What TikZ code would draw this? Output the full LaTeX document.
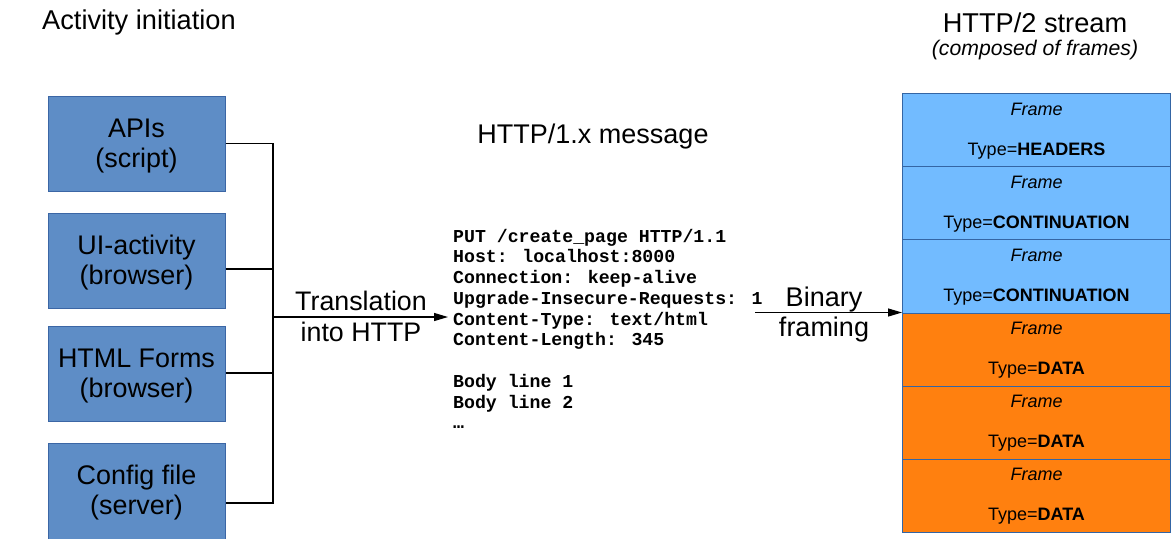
\documentclass[tikz,border=0pt]{standalone}
\usepackage{fontspec}
\setmainfont{Liberation Sans}
\newfontfamily\codefont{Liberation Mono}
\usetikzlibrary{arrows.meta,calc}
\definecolor{boxblue}{HTML}{5E8DC6}
\definecolor{boxedge}{HTML}{3B66A5}
\definecolor{fblue}{HTML}{72BBFF}
\definecolor{forange}{HTML}{FF800F}
\definecolor{frameedge}{HTML}{3465A4}
\tikzset{
  actbox/.style={draw=boxedge, line width=1pt, fill=boxblue, minimum width=177pt, minimum height=95pt, inner sep=0pt},
  acttext/.style={inner sep=0pt, align=center, anchor=base, font=\fontsize{26.9}{29.8}\selectfont},
  frm/.style={draw=frameedge, line width=1pt, minimum width=268pt, minimum height=73.17pt, inner sep=0pt, anchor=north west},
  frmlbl/.style={font=\fontsize{18}{20}\selectfont, anchor=base, inner sep=0pt},
  codeline/.style={anchor=base west, inner sep=0pt, font=\codefont\bfseries\fontsize{18.2}{20.75}\selectfont},
  title/.style={inner sep=0pt, anchor=base},
  conn/.style={line width=1.2pt},
  arr/.style={conn, -{Triangle[length=14pt,width=8pt]}},
}
\begin{document}
\begin{tikzpicture}[x=1pt,y=-1pt]
\useasboundingbox[fill=white] (0,0) rectangle (1174,538);

% titles
\node[title, anchor=base west, font=\fontsize{27.2}{30}\selectfont] (t1) at (42,29) {Activity initiation};
\node[title, font=\fontsize{27.2}{30}\selectfont] (t2) at (1035,32) {HTTP/2 stream};
\node[title, font=\fontsize{21.2}{24}\selectfont\itshape] (t3) at (1035,55) {(composed of frames)};
\node[title, font=\fontsize{27}{30}\selectfont] (t4) at (593,143) {HTTP/1.x message};

% activity boxes
\node[actbox] (b1) at (136.5,143.5) {};
\node[actbox] (b2) at (136.5,260.5) {};
\node[actbox] (b3) at (136.5,374) {};
\node[actbox, minimum height=97pt] (b4) at (136.5,491.5) {};
\node[acttext] (b1t) at ([yshift=-23.5pt]b1.center) {APIs\\(script)};
\node[acttext] (b2t) at ([yshift=-23.5pt]b2.center) {UI-activity\\(browser)};
\node[acttext] (b3t) at ([yshift=-23.5pt]b3.center) {HTML Forms\\(browser)};
\node[acttext] (b4t) at ([yshift=-22.5pt]b4.center) {Config file\\(server)};

% bus connectors
\coordinate (jt) at (273,143.5);
\coordinate (jb) at (273,503);
\coordinate (bus) at (273,317);
\coordinate (msgin) at (448,317);
\draw[conn] (b1.east) -- (jt) -- (jb) -- ([yshift=-11.5pt]b4.east);
\draw[conn] ([yshift=-8.5pt]b2.east) coordinate (b2c) -- (b2c -| jt);
\draw[conn] ([yshift=1pt]b3.east) coordinate (b3c) -- (b3c -| jt);
\draw[arr] (bus) -- (msgin);
\node[inner sep=0pt, align=center, font=\fontsize{26.8}{31}\selectfont, anchor=base] (lt) at (361,341.7) {Translation\\into HTTP};

% HTTP/1.x message
\node[codeline] (m1) at (453,242) {PUT /create\_page HTTP/1.1};
\node[codeline] (m2) at (453,262.75) {Host: localhost:8000};
\node[codeline] (m3) at (453,283.5) {Connection: keep-alive};
\node[codeline] (m4) at (453,304.25) {Upgrade-Insecure-Requests: 1};
\node[codeline] (m5) at (453,325) {Content-Type: text/html};
\node[codeline] (m6) at (453,345.75) {Content-Length: 345};
\node[codeline] (m7) at (453,387.25) {Body line 1};
\node[codeline] (m8) at (453,408) {Body line 2};
\node[codeline] (m9) at (453,428.75) {…};

% frames
\node[frm, fill=fblue] (f1) at (902,93) {};
\node[frm, fill=fblue] (f2) at (902,166.17) {};
\node[frm, fill=fblue] (f3) at (902,239.33) {};
\node[frm, fill=forange] (f4) at (902,312.5) {};
\node[frm, fill=forange] (f5) at (902,385.67) {};
\node[frm, fill=forange] (f6) at (902,458.83) {};

\foreach \f/\t in {f1/HEADERS, f2/CONTINUATION, f3/CONTINUATION, f4/DATA, f5/DATA, f6/DATA}{
  \node[frmlbl, font=\fontsize{18}{20}\selectfont\itshape] (\f a) at ([yshift=-22pt]\f.north) {Frame};
  \node[frmlbl] (\f b) at ([yshift=-62pt]\f.north) {Type=\textbf{\t}};
}

% binary framing arrow
\coordinate (binstart) at (755,312.5);
\draw[arr] (binstart) -- (f4.north west);
\node[inner sep=0pt, align=center, font=\fontsize{27}{30}\selectfont, anchor=base] (lb) at (824,336.7) {Binary\\framing};
\end{tikzpicture}
\end{document}
